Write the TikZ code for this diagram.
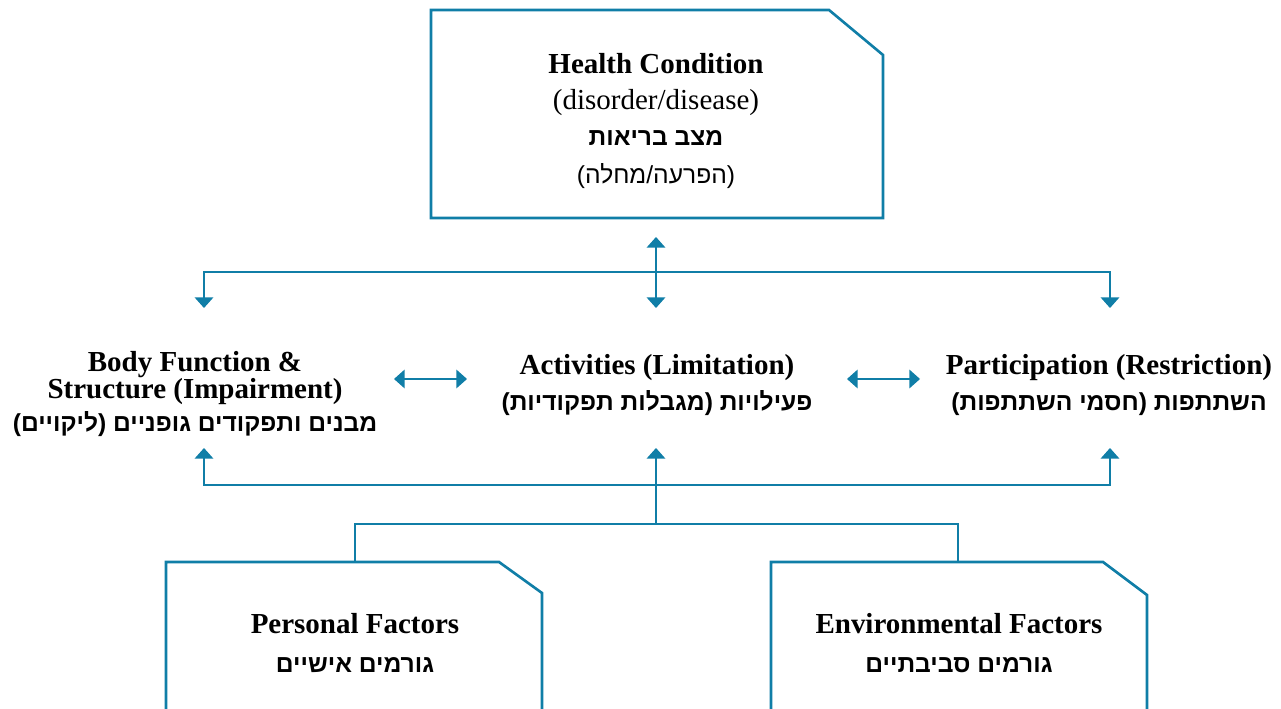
\documentclass[tikz,border=0pt]{standalone}
\usepackage{fontspec}
\setmainfont{Liberation Serif}
\newfontfamily\hebfont[Script=Hebrew]{Liberation Sans}
\TeXXeTstate=1
\usetikzlibrary{arrows.meta}
\definecolor{icfblue}{RGB}{16,126,167}
\newcommand{\heb}[1]{{\hebfont\fontsize{14}{20.5}\selectfont\bfseries\beginR #1\endR}}
\newcommand{\hebmd}[1]{{\hebfont\fontsize{14}{20.5}\selectfont\beginR #1\endR}}
\tikzset{
	frame/.style={draw=icfblue, line width=1.5pt, line join=miter},
	link/.style={draw=icfblue, line width=0.85pt},
	txt/.style={align=center, inner sep=0pt, font=\fontsize{16.5}{20.5}\selectfont},
}
\begin{document}
\begin{tikzpicture}[x=0.02cm, y=-0.02cm, >={Triangle[width=10.5pt,length=6pt]}]
	\useasboundingbox (0,0) rectangle (1281,709);
	\clip (0,0) rectangle (1281,709);
	% boxes
	\draw[frame] (431,218) -- (431,10) -- (829,10) -- (883,55) -- (883,218) -- cycle;
	\draw[frame] (166,740) -- (166,562) -- (499,562) -- (542,593) -- (542,740);
	\draw[frame] (771,740) -- (771,562) -- (1103,562) -- (1147,595) -- (1147,740);
	% texts
	\node[txt] (health) at (656,121) {\textbf{Health Condition}\\(disorder/disease)\\\heb{מצב בריאות}\\[1pt]\hebmd{(הפרעה/מחלה)}};
	\node[txt] (body) at (195,394) {\textbf{Body Function \&}\\[-5pt]\textbf{Structure (Impairment)}\\[-1.3pt]\heb{מבנים ותפקודים גופניים (ליקויים)}};
	\node[txt] (activity) at (657,385) {\textbf{Activities (Limitation)}\\\heb{פעילויות (מגבלות תפקודיות)}};
	\node[txt] (particip) at (1109,385) {\textbf{Participation (Restriction)}\\\heb{השתתפות (חסמי השתתפות)}};
	\node[txt] (personal) at (355,643) {\textbf{Personal Factors}\\[1.5pt]\heb{גורמים אישיים}};
	\node[txt] (environ) at (959,643) {\textbf{Environmental Factors}\\[1.5pt]\heb{גורמים סביבתיים}};
	% connectors
	\coordinate (hcup) at (656,237);
	\coordinate (hcdown) at (656,308);
	\coordinate (topbar) at (656,272);
	\coordinate (bodyin) at (204,308);
	\coordinate (partin) at (1110,308);
	\draw[link,<->] (hcup) -- (hcdown);
	\draw[link,->] (topbar) -| (bodyin);
	\draw[link,->] (topbar) -| (partin);
	\coordinate (bodyright) at (394,379);
	\coordinate (actleft) at (467,379);
	\coordinate (actright) at (847,379);
	\coordinate (partleft) at (920,379);
	\draw[link,<->] (bodyright) -- (actleft);
	\draw[link,<->] (actright) -- (partleft);
	\coordinate (bodyout) at (204,448);
	\coordinate (actout) at (656,448);
	\coordinate (partout) at (1110,448);
	\coordinate (lowbar) at (656,485);
	\coordinate (factorbar) at (656,524);
	\coordinate (pftop) at (355,562);
	\coordinate (eftop) at (958,562);
	\draw[link,->] (lowbar) -| (bodyout);
	\draw[link,->] (lowbar) -| (partout);
	\draw[link,->] (factorbar) -- (actout);
	\draw[link] (pftop) |- (factorbar) -| (eftop);
\end{tikzpicture}
\end{document}
